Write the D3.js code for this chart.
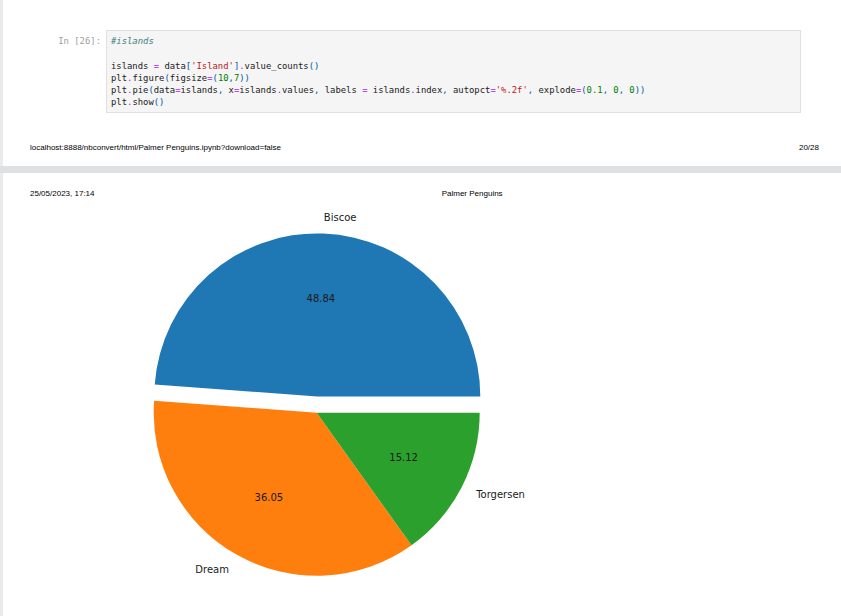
<!DOCTYPE html>
<html>
<head>
<meta charset="utf-8">
<script src="https://cdn.jsdelivr.net/npm/d3@7"></script>
<style>
  html, body { margin: 0; padding: 0; background: #fff; }
  svg { display: block; }
  .mono { font-family: "DejaVu Sans Mono", "Liberation Mono", monospace; font-size: 8.9px; white-space: pre; }
  .print { font-family: "Liberation Sans", Arial, sans-serif; font-size: 8px; fill: #000; }
  .pie-text { font-family: "DejaVu Sans", sans-serif; font-size: 10px; fill: #1a1a1a; }
</style>
</head>
<body>
<div id="page"></div>
<script>
// island counts from the notebook (value_counts)
const islands = ['Biscoe', 'Dream', 'Torgersen'];
const counts = [168, 124, 52];
const explode = [0.1, 0, 0];
const colors = ['#1f77b4', '#ff7f0e', '#2ca02c'];

const codeLines = [
    "#islands",
    "",
    "islands = data['Island'].value_counts()",
    "plt.figure(figsize=(10,7))",
    "plt.pie(data=islands, x=islands.values, labels = islands.index, autopct='%.2f', explode=(0.1, 0, 0))",
    "plt.show()"
];

const W = 841, H = 616;

const svg = d3.select('#page').append('svg')
    .attr('width', W)
    .attr('height', H);

// pages: white with a grey gap between them
svg.append('rect').attr('width', W).attr('height', H).attr('fill', '#fff');
svg.append('rect').attr('x', 0).attr('y', 0).attr('width', 3).attr('height', H).attr('fill', '#ebebeb');
svg.append('rect').attr('x', 0).attr('y', 166).attr('width', W).attr('height', 7).attr('fill', '#dfe0e1');

// ---- code cell ----
svg.append('rect')
    .attr('x', 106.5).attr('y', 30.5)
    .attr('width', 694).attr('height', 82)
    .attr('fill', '#f5f5f5')
    .attr('stroke', '#e0e0e0');

svg.append('text')
    .attr('class', 'mono')
    .attr('x', 101).attr('y', 44.3)
    .attr('text-anchor', 'end')
    .attr('fill', '#9e9e9e')
    .text('In [26]:');

const tokenColors = {
    comment: '#408080',
    string: '#ba2121',
    number: '#008000',
    op: '#aa22ff',
    punct: '#0055aa',
    name: '#212121',
    space: '#212121'
};

function tokenize(line) {
    const re = /(#.*$)|('[^']*')|(\d+\.?\d*)|([=.])|([\[\](),])|([A-Za-z_]\w*)|(\s+)|(.)/g;
    const out = [];
    let m;
    while ((m = re.exec(line)) !== null) {
        let type = 'name';
        if (m[1]) type = 'comment';
        else if (m[2]) type = 'string';
        else if (m[3]) type = 'number';
        else if (m[4]) type = 'op';
        else if (m[5]) type = 'punct';
        else if (m[7]) type = 'space';
        out.push({ text: m[0], type: type });
    }
    return out;
}

const lineHeight = 12.15;
codeLines.forEach((line, i) => {
    const t = svg.append('text')
        .attr('class', 'mono')
        .attr('x', 111)
        .attr('y', 44.3 + i * lineHeight);
    tokenize(line).forEach(tok => {
        t.append('tspan')
            .attr('fill', tokenColors[tok.type])
            .style('font-style', tok.type === 'comment' ? 'italic' : null)
            .text(tok.text);
    });
});

// ---- print headers / footers ----
svg.append('text').attr('class', 'print')
    .attr('x', 30).attr('y', 149.5)
    .text('localhost:8888/nbconvert/html/Palmer Penguins.ipynb?download=false');
svg.append('text').attr('class', 'print')
    .attr('x', 819).attr('y', 149.5)
    .attr('text-anchor', 'end')
    .text('20/28');
svg.append('text').attr('class', 'print')
    .attr('x', 30).attr('y', 196.2)
    .text('25/05/2023, 17:14');
svg.append('text').attr('class', 'print')
    .attr('x', 441.7).attr('y', 196.2)
    .text('Palmer Penguins');

// ---- pie (matplotlib style: start at 3 o'clock, counter-clockwise) ----
const cx = 316.7, cy = 412.7, r = 163;

const pie = d3.pie()
    .sort(null)
    .value(d => d.value)
    .startAngle(Math.PI / 2)
    .endAngle(Math.PI / 2 - 2 * Math.PI);

const arcs = pie(islands.map((name, i) => ({ name: name, value: counts[i], explode: explode[i], color: colors[i] })));
const total = d3.sum(counts);

const arc = d3.arc().innerRadius(0).outerRadius(r);

const g = svg.append('g').attr('transform', `translate(${cx},${cy})`);

const slice = g.selectAll('g.slice')
    .data(arcs)
    .enter().append('g')
    .attr('class', 'slice')
    .attr('transform', d => {
        const mid = (d.startAngle + d.endAngle) / 2;
        const off = d.data.explode * r;
        return `translate(${Math.sin(mid) * off},${-Math.cos(mid) * off})`;
    });

slice.append('path')
    .attr('d', arc)
    .attr('fill', d => d.data.color);

// labels at 1.1 r
slice.append('text')
    .attr('class', 'pie-text')
    .attr('x', d => Math.sin((d.startAngle + d.endAngle) / 2) * r * 1.1)
    .attr('y', d => -Math.cos((d.startAngle + d.endAngle) / 2) * r * 1.1)
    .attr('dy', '0.35em')
    .attr('text-anchor', d => Math.sin((d.startAngle + d.endAngle) / 2) > 0 ? 'start' : 'end')
    .text(d => d.data.name);

// autopct at 0.6 r
slice.append('text')
    .attr('class', 'pie-text')
    .attr('x', d => Math.sin((d.startAngle + d.endAngle) / 2) * r * 0.6)
    .attr('y', d => -Math.cos((d.startAngle + d.endAngle) / 2) * r * 0.6)
    .attr('dy', '0.35em')
    .attr('text-anchor', 'middle')
    .text(d => d3.format('.2f')(d.data.value / total * 100));
</script>
</body>
</html>
